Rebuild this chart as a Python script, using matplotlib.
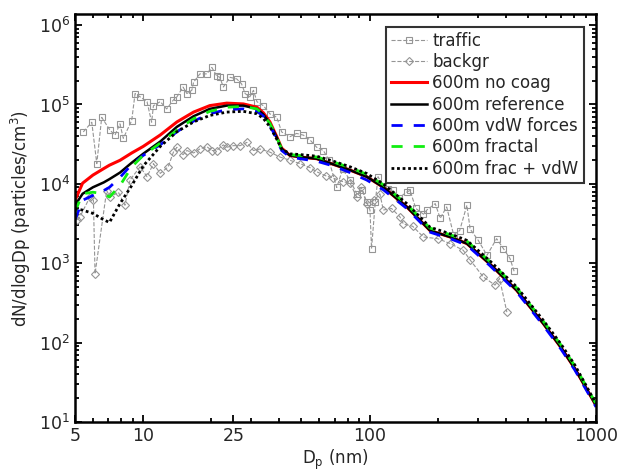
import matplotlib
matplotlib.use("Agg")
import matplotlib.pyplot as plt
from matplotlib.ticker import FixedLocator, LogLocator, NullFormatter, LogFormatterSciNotation

# ---------------------------------------------------------------------------
# Data
# ---------------------------------------------------------------------------
dp_model = [5, 5.4, 6, 6.7, 7.1, 7.9, 8.9, 10, 11.9, 14.1, 16.7, 19.7, 23.4, 27.7,
            31.8, 34, 36.3, 38.9, 40.9, 44.5, 49.3, 58.4, 69.2, 82, 97, 115, 146,
            185, 227, 269, 340, 446, 585, 700, 807, 1000]

no_coag = [6190, 10200, 12900, 15600, 17200, 19800, 24500, 29600, 41300, 60300,
           80200, 96800, 104000, 101600, 92500, 78300, 60300, 39400, 28200,
           22800, 21800, 20750, 17600, 14900, 12330, 9060, 5130, 2580, 2140,
           1770, 977, 457, 174, 87, 47, 16.2]
reference = [5370, 7500, 9060, 10440, 11480, 13870, 18450, 23930, 34120, 52360,
             71120, 88100, 96800, 96800, 88100, 74600, 57500, 38500, 27500,
             22800, 21800, 20750, 17600, 14900, 12330, 9060, 5130, 2580, 2140,
             1770, 977, 457, 174, 87, 47, 16.2]
vdw = [3520, 6210, 7150, 8240, 9060, 12050, 17580, 22800, 31050, 45400, 61800,
       76400, 86100, 88100, 82000, 71100, 54800, 36600, 26300, 21800, 20750,
       19300, 16800, 13870, 11200, 8430, 4900, 2460, 2040, 1690, 933, 437, 165,
       83, 45, 15.5]
fractal = [4450, 7500, 7850, 7500, 6820, 9510, 16370, 22800, 32600, 47500, 66200,
           82000, 92300, 94600, 88100, 74600, 57500, 38500, 27500, 23400, 22800,
           21800, 18900, 16000, 13240, 9730, 5510, 2770, 2290, 1900, 1050, 491,
           186, 93.5, 50.6, 17.0]
frac_vdw = [4900, 4670, 4250, 3520, 3270, 5640, 9510, 16800, 29600, 45400, 60300,
            72800, 80200, 82000, 76400, 66400, 52400, 36600, 27600, 23900, 23400,
            22300, 19300, 16400, 13550, 9950, 5640, 2840, 2350, 1940, 1070, 504,
            191, 96, 52, 17.0]

dp_traffic = [5.44, 5.93, 6.24, 6.56, 7.14, 7.51, 7.9, 8.17, 8.9, 9.21, 9.69,
              10.4, 10.9, 11.1, 11.9, 12.7, 13.6, 14.1, 15.0, 15.6, 16.4, 16.7,
              17.8, 19.1, 20.1, 21.1, 21.8, 22.6, 24.2, 25.9, 27.2, 28.2, 29.6,
              30.7, 31.8, 34.0, 36.3, 38.9, 40.9, 44.5, 47.6, 51.0, 54.6, 58.4,
              62.5, 66, 71.6, 76, 82, 87.7, 93, 97, 100.4, 102, 106, 109, 115,
              121, 127, 135, 146, 151, 160, 173, 179, 195, 205, 219, 235, 250,
              269, 278, 302, 330, 364, 390, 417, 435]
traffic = [45100, 59800, 18000, 68900, 47400, 41100, 57100, 37500, 62800, 137400,
           125000, 108600, 59800, 96400, 108600, 87900, 114000, 125000, 166000,
           137400, 151000, 191000, 243000, 243000, 293000, 231000, 220000,
           166000, 220000, 210000, 182000, 137400, 125000, 151000, 108600, 96400,
           76200, 69200, 45100, 39300, 43200, 41100, 35700, 28900, 26300, 20200,
           9000, 15200, 11200, 7500, 8430, 5920, 4680, 1530, 5920, 12300, 9500,
           8650, 8260, 6680, 7890, 8260, 4900, 4150, 4680, 5640, 3680, 5130,
           2290, 2580, 5380, 2700, 1940, 1260, 2040, 1530, 1150, 790]

dp_backgr = [5.1, 5.26, 5.82, 6.03, 6.13, 6.9, 7.14, 7.77, 8.31, 8.75, 9.69, 10.4,
             11.1, 11.9, 12.9, 13.6, 14.1, 15.0, 15.6, 16.7, 17.8, 19.1, 20.1,
             21.1, 22.6, 23.4, 25.0, 26.8, 28.7, 30.7, 32.8, 36.3, 40.2, 44.5,
             49.3, 54.6, 58.4, 64, 69.2, 76, 82, 87.7, 92, 97, 105, 111, 115,
             125, 136, 141, 155, 173, 200, 227, 259, 278, 318, 358, 375, 404]
backgr = [3520, 3860, 6820, 6210, 735, 8240, 6820, 7850, 5380, 11200, 16400,
          12300, 18000, 13550, 16400, 25100, 28900, 23300, 26300, 24500, 27500,
          29500, 26300, 26300, 31000, 28900, 30300, 30300, 33300, 26300, 27500,
          25100, 21800, 19800, 18000, 16000, 14200, 12650, 11800, 10700, 10200,
          6820, 9060, 5640, 6210, 7500, 4680, 4900, 3860, 3130, 2920, 2140, 2040,
          1770, 1460, 1100, 671, 531, 640, 242]

x_ticks = [5, 10, 25, 100, 1000]
x_ticklabels = ["5", "10", "25", "100", "1000"]

# ---------------------------------------------------------------------------
# Figure
# ---------------------------------------------------------------------------
plt.rcParams["font.family"] = "DejaVu Sans"
txt = "#262626"

fig = plt.figure(figsize=(6.22, 4.76), dpi=100)
ax = fig.add_axes([75 / 622, 54 / 476, 521 / 622, 408 / 476])

gray = "#959595"
ax.plot(dp_traffic, traffic, ls="--", color=gray, lw=0.8, marker="s", ms=4,
        mfc="none", mec=gray, mew=0.8, label="traffic")
ax.plot(dp_backgr, backgr, ls="--", color=gray, lw=0.8, marker="D", ms=4,
        mfc="none", mec=gray, mew=0.8, label="backgr")

ax.plot(dp_model, no_coag, color="red", lw=2.2, label="600m no coag")
ax.plot(dp_model, reference, color="black", lw=1.8, label="600m reference")
ax.plot(dp_model, vdw, color="blue", lw=2, ls=(0, (4, 4)), label="600m vdW forces")
ax.plot(dp_model, fractal, color="#11ee11", lw=2, ls=(0, (4, 4)), label="600m fractal")
ax.plot(dp_model, frac_vdw, color="black", lw=2, ls=(0, (1, 1)), label="600m frac + vdW")

ax.set_xscale("log")
ax.set_yscale("log")
ax.set_xlim(5, 1000)
ax.set_ylim(10, 10 ** 6.14)

ax.xaxis.set_major_locator(FixedLocator(x_ticks))
ax.set_xticklabels(x_ticklabels)
ax.xaxis.set_minor_locator(LogLocator(base=10, subs=range(2, 10), numticks=20))
ax.xaxis.set_minor_formatter(NullFormatter())
ax.yaxis.set_major_locator(LogLocator(base=10, numticks=10))
ax.yaxis.set_major_formatter(LogFormatterSciNotation())
ax.yaxis.set_minor_locator(LogLocator(base=10, subs=range(2, 10), numticks=20))
ax.yaxis.set_minor_formatter(NullFormatter())

ax.tick_params(which="both", direction="in", top=True, right=True,
               labelsize=12.5, colors="black", labelcolor=txt, width=1.3)
ax.tick_params(which="major", length=5)
ax.tick_params(which="minor", length=3)
for sp in ax.spines.values():
    sp.set_linewidth(1.8)

ax.set_xlabel("D$_\\mathregular{p}$ (nm)", fontsize=12, color=txt, labelpad=2)
ax.set_ylabel("dN/dlogDp (particles/cm$^\\mathregular{3}$)", fontsize=12,
              color=txt, labelpad=4)

leg = ax.legend(loc="upper right", fontsize=12, frameon=True, fancybox=False,
                handlelength=2.2, handletextpad=0.3, borderpad=0.3,
                labelspacing=0.2, borderaxespad=0.75)
leg.get_frame().set_edgecolor("black")
leg.get_frame().set_linewidth(1.5)
for t in leg.get_texts():
    t.set_color(txt)

fig.savefig("out.png", dpi=100)
